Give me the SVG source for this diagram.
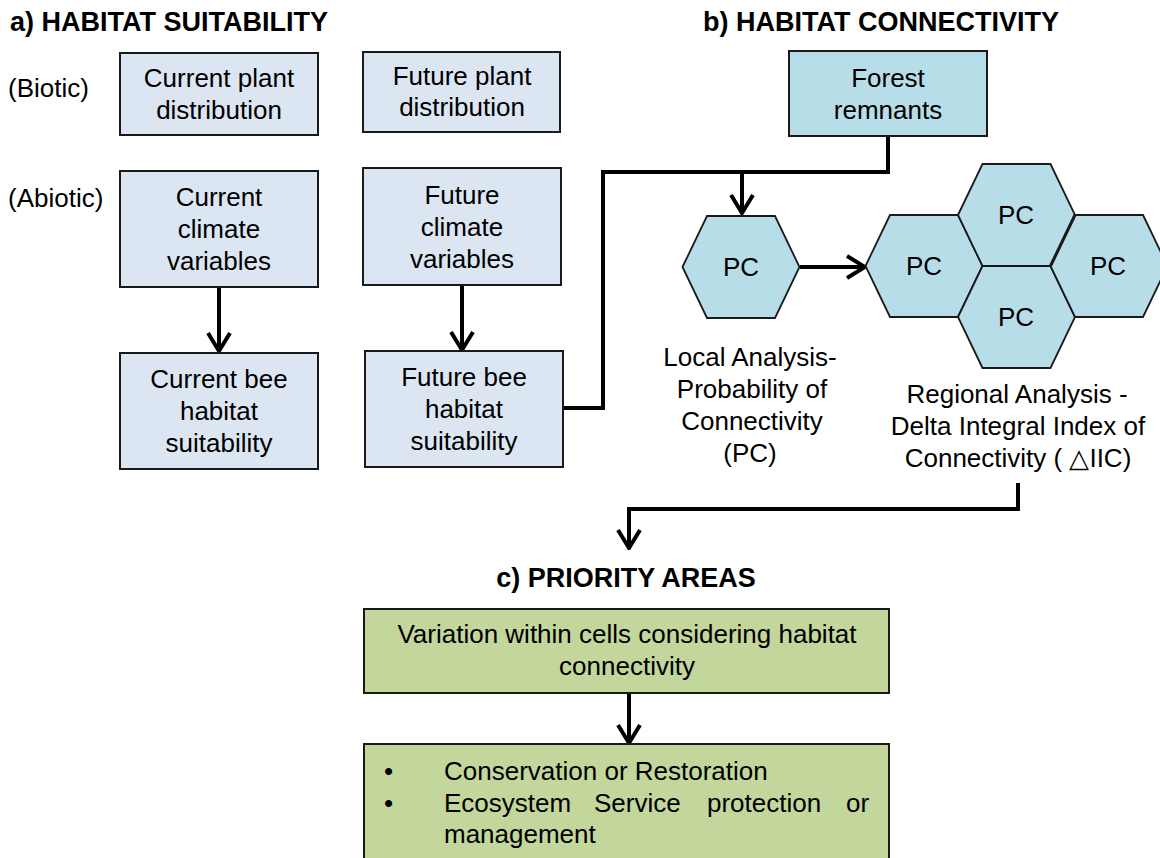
<svg xmlns="http://www.w3.org/2000/svg" width="1160" height="858" viewBox="0 0 1160 858">
  <defs>
    <style>
      .t { font-family: "Liberation Sans", Arial, sans-serif; font-size: 26px; fill: #000; }
      .c { text-anchor: middle; }
      .h { font-family: "Liberation Sans", Arial, sans-serif; font-size: 27px; font-weight: bold; fill: #000; }
      .box { fill: #dce6f2; stroke: #1a1a1a; stroke-width: 2; }
      .aqua { fill: #b7dee8; stroke: #1a1a1a; stroke-width: 2; }
      .hex { fill: #b7dee8; stroke: #1a1a1a; stroke-width: 1.8; }
      .green { fill: #c3d69b; stroke: #1a1a1a; stroke-width: 2; }
      .con { fill: none; stroke: #000; stroke-width: 4; }
    </style>
    <marker id="arr" viewBox="0 0 22 26" refX="20" refY="13" markerWidth="22" markerHeight="26" markerUnits="userSpaceOnUse" orient="auto">
      <path d="M2,2 L20,13 L2,24" fill="none" stroke="#000" stroke-width="4" stroke-linejoin="miter"/>
    </marker>
  </defs>
  <rect width="1160" height="858" fill="#fff"/>

  <g id="titles">
    <text class="h" x="10" y="31">a) HABITAT SUITABILITY</text>
    <text class="h" x="703" y="31">b) HABITAT CONNECTIVITY</text>
    <text class="h c" x="626" y="587">c) PRIORITY AREAS</text>
    <text class="t" x="8" y="97">(Biotic)</text>
    <text class="t" x="8" y="207">(Abiotic)</text>
  </g>

  <g id="connectors">
    <line class="con" x1="219" y1="287" x2="219" y2="351" marker-end="url(#arr)"/>
    <line class="con" x1="462" y1="285" x2="462" y2="350" marker-end="url(#arr)"/>
    <polyline class="con" points="563,408 603,408 603,172 888,172"/>
    <line class="con" x1="888" y1="136" x2="888" y2="174"/>
    <line class="con" x1="742" y1="172" x2="742" y2="213" marker-end="url(#arr)"/>
    <line class="con" x1="800" y1="267" x2="865" y2="267" marker-end="url(#arr)"/>
    <polyline class="con" points="1018,483 1018,509 629,509 629,548" marker-end="url(#arr)"/>
    <line class="con" x1="629" y1="693" x2="629" y2="743" marker-end="url(#arr)"/>
  </g>

  <g id="current-plant">
    <rect class="box" x="120" y="53" width="198" height="82"/>
    <text class="t c" x="219" y="87">Current plant</text>
    <text class="t c" x="219" y="119">distribution</text>
  </g>
  <g id="future-plant">
    <rect class="box" x="363" y="52" width="197" height="80"/>
    <text class="t c" x="462" y="85">Future plant</text>
    <text class="t c" x="462" y="116">distribution</text>
  </g>
  <g id="current-climate">
    <rect class="box" x="120" y="171" width="198" height="116"/>
    <text class="t c" x="219" y="206">Current</text>
    <text class="t c" x="219" y="238">climate</text>
    <text class="t c" x="219" y="270">variables</text>
  </g>
  <g id="future-climate">
    <rect class="box" x="363" y="168" width="198" height="117"/>
    <text class="t c" x="462" y="204">Future</text>
    <text class="t c" x="462" y="236">climate</text>
    <text class="t c" x="462" y="268">variables</text>
  </g>
  <g id="current-bee">
    <rect class="box" x="120" y="353" width="198" height="116"/>
    <text class="t c" x="219" y="388">Current bee</text>
    <text class="t c" x="219" y="420">habitat</text>
    <text class="t c" x="219" y="452">suitability</text>
  </g>
  <g id="future-bee">
    <rect class="box" x="365" y="351" width="198" height="116"/>
    <text class="t c" x="464" y="386">Future bee</text>
    <text class="t c" x="464" y="418">habitat</text>
    <text class="t c" x="464" y="450">suitability</text>
  </g>
  <g id="forest-remnants">
    <rect class="aqua" x="789" y="51" width="198" height="85"/>
    <text class="t c" x="888" y="87">Forest</text>
    <text class="t c" x="888" y="119">remnants</text>
  </g>

  <g id="local-pc">
    <polygon class="hex" points="682.5,267 707,216 775,216 799.5,267 775,318 707,318"/>
    <text class="t c" x="741" y="276">PC</text>
  </g>
  <g id="local-label">
    <text class="t c" x="750" y="366">Local Analysis-</text>
    <text class="t c" x="752" y="398">Probability of</text>
    <text class="t c" x="752" y="430">Connectivity</text>
    <text class="t c" x="750" y="462">(PC)</text>
  </g>

  <g id="regional-pc">
    <polygon class="hex" points="865.5,266 890,215 958,215 982.5,266 958,317 890,317"/>
    <text class="t c" x="924" y="275">PC</text>
    <polygon class="hex" points="958,215 982.5,164 1050.5,164 1075,215 1050.5,266 982.5,266"/>
    <text class="t c" x="1016" y="224">PC</text>
    <polygon class="hex" points="958,317 982.5,266 1050.5,266 1075,317 1050.5,368 982.5,368"/>
    <text class="t c" x="1016" y="326">PC</text>
    <polygon class="hex" points="1050.5,266 1075,215 1143,215 1167.5,266 1143,317 1075,317"/>
    <text class="t c" x="1108" y="275">PC</text>
    <line x1="1075" y1="215" x2="1050.5" y2="266" stroke="#1a1a1a" stroke-width="3"/>
  </g>
  <g id="regional-label">
    <text class="t c" x="1017" y="403">Regional Analysis -</text>
    <text class="t c" x="1018" y="435">Delta Integral Index of</text>
    <text class="t c" x="1018" y="467">Connectivity ( △IIC)</text>
  </g>

  <g id="variation">
    <rect class="green" x="364" y="609" width="525" height="84"/>
    <text class="t c" x="627" y="643">Variation within cells considering habitat</text>
    <text class="t c" x="627" y="675">connectivity</text>
  </g>
  <g id="actions">
    <rect class="green" x="364" y="744" width="525" height="130"/>
    <text class="t" x="384" y="780">•</text>
    <text class="t" x="444" y="780">Conservation or Restoration</text>
    <text class="t" x="384" y="812">•</text>
    <text class="t" y="812"><tspan x="444">Ecosystem</tspan><tspan x="594">Service</tspan><tspan x="707">protection</tspan><tspan x="846">or</tspan></text>
    <text class="t" x="444" y="843">management</text>
  </g>
</svg>
